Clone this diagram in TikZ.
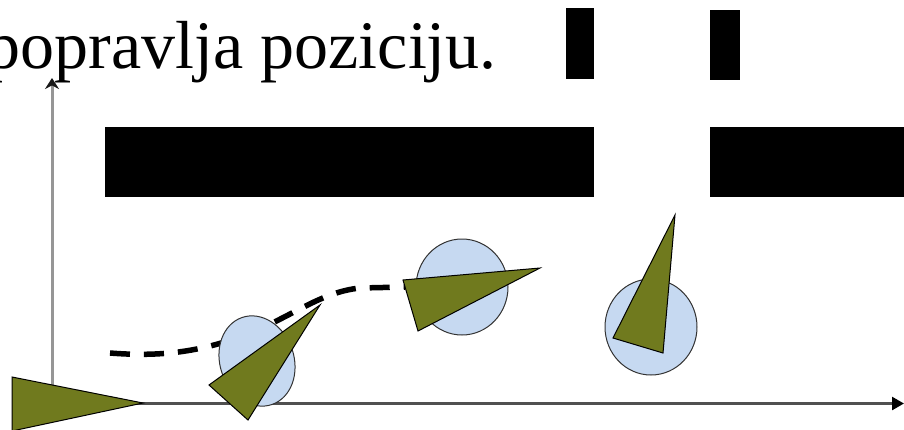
\documentclass[tikz,border=0pt]{standalone}
\usepackage{fontspec}
\setmainfont{Liberation Serif}
\usetikzlibrary{arrows.meta}
\definecolor{olivefill}{RGB}{112,122,30}
\definecolor{blobfill}{RGB}{198,217,241}
\definecolor{axisgray}{RGB}{150,150,150}
\definecolor{axisdark}{RGB}{80,80,80}
\begin{document}
\begin{tikzpicture}[x=1pt,y=-1pt,
  bar/.style={fill=black,draw=none},
  robot/.style={fill=olivefill,draw=black,line width=1pt,line join=miter},
  blob/.style={fill=blobfill,draw=black!80,line width=1pt},
  trail/.style={line width=5.5pt,dash pattern=on 20pt off 14pt},
  yaxis/.style={draw=axisgray,line width=3pt,-{Stealth[length=11pt,width=14pt,color=black!90]}},
  xaxis/.style={draw=axisdark,line width=2.5pt,-{Triangle[length=12pt,width=13pt,color=black]}}]
\useasboundingbox (0,0) rectangle (904,429);
\fill[white] (0,0) rectangle (904,429);
% title text
\node[anchor=base east,inner sep=0pt,font=\fontsize{68pt}{70pt}\selectfont] (title) at (497,68) {popravlja poziciju.};
% black bars
\fill[bar] (565.5,7.5) rectangle (593.5,78.5);
\fill[bar] (710,9.5) rectangle (739.5,80);
\fill[bar] (105,126.5) rectangle (593.5,196.5);
\fill[bar] (710,126.5) rectangle (904,196.5);
% axes
\coordinate (origin) at (52,403.5);
\coordinate (ytip) at (52,78);
\coordinate (xtip) at (904,403.5);
\draw[yaxis] (origin) -- (ytip);
\draw[xaxis] (origin) -- (xtip);
% dashed trail
\draw[trail] (110,353) .. controls (160,357) and (200,352) .. (245,335)
  .. controls (290,318) and (320,292) .. (360,288) -- (405,287);
% pose 2
\draw[blob,shift={(257,361)},rotate=-71] (0,0) ellipse [x radius=46pt,y radius=37pt];
\draw[robot] (209,385) -- (248,420) -- (320,305) -- cycle;
% pose 3
\draw[blob] (462,287) ellipse [x radius=46pt,y radius=48pt];
\draw[robot] (403,280) -- (418,331) -- (540,268) -- cycle;
% pose 4
\draw[blob] (651,327) ellipse [x radius=46pt,y radius=48pt];
\draw[robot] (675,215) -- (613,338) -- (663,353) -- cycle;
% pose 1
\draw[robot] (12,377) -- (12,431) -- (143,403) -- cycle;
\end{tikzpicture}
\end{document}
